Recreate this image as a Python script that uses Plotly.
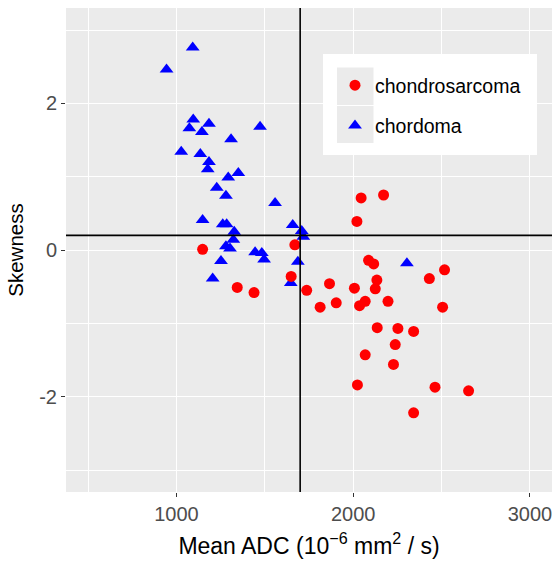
import plotly.graph_objects as go

# ---- data ----
chondrosarcoma_adc = [1148, 1670, 1649, 1344, 1439, 1737, 1866, 2045, 2172, 2021, 2087,
                      2116, 2517, 2431, 2134, 2125, 2007, 1813, 1904, 2036, 2068, 2197,
                      2506, 2136, 2253, 2342, 2238, 2068, 2228, 2024, 2463, 2653, 2342]
chondrosarcoma_skew = [0.01, 0.07, -0.36, -0.51, -0.58, -0.55, -0.46, 0.71, 0.75, 0.39, -0.14,
                       -0.19, -0.27, -0.39, -0.41, -0.53, -0.52, -0.78, -0.72, -0.76, -0.70, -0.70,
                       -0.78, -1.06, -1.07, -1.11, -1.29, -1.43, -1.56, -1.84, -1.87, -1.92, -2.22]

chordoma_adc = [1092, 944, 1095, 1184, 1073, 1144, 1473, 1309, 1027, 1135, 1184, 1177,
                1350, 1293, 1228, 1280, 1558, 1148, 1262, 1284, 1327, 1658, 1709, 1718,
                1322, 1280, 1303, 1445, 1483, 1496, 1252, 1687, 1205, 1647, 2304]
chordoma_skew = [2.76, 2.46, 1.78, 1.72, 1.66, 1.61, 1.68, 1.51, 1.34, 1.31, 1.20, 1.10,
                 1.05, 0.99, 0.85, 0.74, 0.64, 0.41, 0.35, 0.35, 0.25, 0.34, 0.26, 0.18,
                 0.14, 0.05, 0.02, -0.03, -0.04, -0.13, -0.15, -0.16, -0.39, -0.45, -0.18]

x_tickvals = [1000, 2000, 3000]
x_ticktext = ["1000", "2000", "3000"]
x_minor = [500, 1500, 2500]
y_tickvals = [-2, 0, 2]
y_ticktext = ["-2", "0", "2"]
y_minor = [-3, -1, 1, 3]

adc_cutoff = 1700
skew_cutoff = 0.2

x_title = "Mean ADC (10<sup>−6</sup> mm<sup>2</sup>\u00a0/\u00a0s)"
y_title = "Skewness" + "\u00a0" * 4

# ---- layout geometry ----
W, H = 553, 566
ML, MR, MT, MB = 66, 1, 8, 74
PW, PH = W - ML - MR, H - MT - MB


def px(xp):
    return (xp - ML) / PW


def py(yp):
    return (H - MB - yp) / PH


FONT = "Liberation Sans, Arial, Helvetica, sans-serif"

fig = go.Figure()

fig.add_trace(go.Scatter(
    x=chordoma_adc, y=chordoma_skew, mode="markers", name="chordoma",
    legendgroup="b", legendrank=2,
    marker=dict(symbol="triangle-up", size=12, color="#0000FF", line=dict(width=0)),
))
fig.add_trace(go.Scatter(
    x=chondrosarcoma_adc, y=chondrosarcoma_skew, mode="markers", name="chondrosarcoma",
    legendgroup="a", legendrank=1,
    marker=dict(symbol="circle", size=11, color="#FF0000", line=dict(width=0)),
))

shapes = [
    dict(type="line", xref="x", yref="paper", x0=adc_cutoff, x1=adc_cutoff, y0=0, y1=1,
         line=dict(color="black", width=1.6), layer="above"),
    dict(type="line", xref="paper", yref="y", x0=0, x1=1, y0=skew_cutoff, y1=skew_cutoff,
         line=dict(color="black", width=1.6), layer="above"),
    # legend box and key backgrounds
    dict(type="rect", xref="paper", yref="paper", x0=px(323), x1=px(537), y0=py(155), y1=py(54),
         fillcolor="white", line=dict(width=0), layer="above"),
    dict(type="rect", xref="paper", yref="paper", x0=px(337), x1=px(373.5), y0=py(105), y1=py(67.5),
         fillcolor="#EBEBEB", line=dict(width=0), layer="above"),
    dict(type="rect", xref="paper", yref="paper", x0=px(337), x1=px(373.5), y0=py(143), y1=py(106),
         fillcolor="#EBEBEB", line=dict(width=0), layer="above"),
]

fig.update_layout(
    width=W, height=H,
    margin=dict(l=ML, r=MR, t=MT, b=MB, pad=0),
    paper_bgcolor="white", plot_bgcolor="#EBEBEB",
    font=dict(family=FONT, color="black"),
    shapes=shapes,
    showlegend=True,
    legend=dict(
        x=px(335), y=py(66), xanchor="left", yanchor="top",
        bgcolor="rgba(0,0,0,0)", borderwidth=0,
        font=dict(size=19.5, color="black", family=FONT),
        traceorder="grouped", tracegroupgap=12,
    ),
    xaxis=dict(
        range=[375, 3125], tickvals=x_tickvals, ticktext=x_ticktext,
        showgrid=True, gridcolor="white", gridwidth=1.4, zeroline=False,
        minor=dict(tickvals=x_minor, showgrid=True, gridcolor="white", gridwidth=0.7, ticks=""),
        ticks="outside", ticklen=4, tickwidth=1.4, tickcolor="#333333",
        tickfont=dict(size=20, color="#4D4D4D"),
        title=dict(text=x_title, font=dict(size=23, color="black"), standoff=13),
        showline=False,
    ),
    yaxis=dict(
        range=[-3.3, 3.3], tickvals=y_tickvals, ticktext=y_ticktext,
        showgrid=True, gridcolor="white", gridwidth=1.4, zeroline=False,
        minor=dict(tickvals=y_minor, showgrid=True, gridcolor="white", gridwidth=0.7, ticks=""),
        ticks="outside", ticklen=4, tickwidth=1.4, tickcolor="#333333",
        tickfont=dict(size=20, color="#4D4D4D"),
        title=dict(text=y_title, font=dict(size=20.5, color="black"), standoff=10),
        showline=False,
    ),
)

fig.write_html("out.html", config={"displayModeBar": False},
               post_script="document.body.style.margin='0';document.body.style.overflow='hidden';")
